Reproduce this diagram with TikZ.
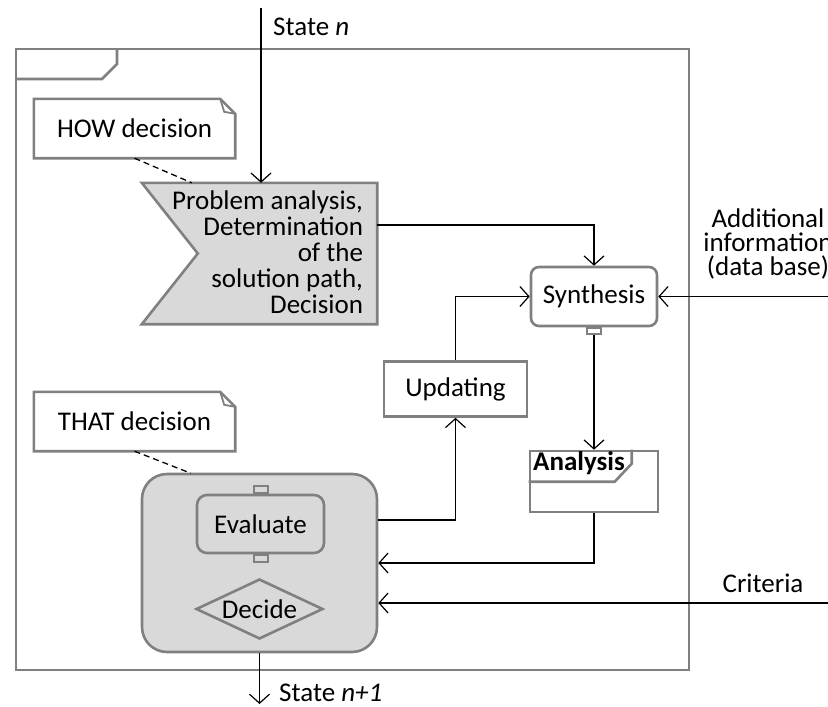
\documentclass[tikz,border=0pt]{standalone}
\usepackage{fontspec}
\setmainfont{Carlito}
\usetikzlibrary{arrows.meta,shapes.geometric,calc}
\definecolor{bgray}{RGB}{128,128,128}
\definecolor{gfill}{RGB}{217,217,217}
\begin{document}
\begin{tikzpicture}[x=1pt,y=-1pt,
  every node/.style={font=\fontsize{27}{26}\selectfont, inner sep=0pt},
  gline/.style={draw=bgray,line width=2.6pt},
  conn/.style={line width=1.2pt,-{Straight Barb[length=9pt,width=20pt]}},
  dashline/.style={line width=1.3pt,dash pattern=on 6pt off 4pt},
  portbox/.style={draw=bgray,line width=2pt,minimum width=14pt,minimum height=7pt},
  note/.style={minimum width=201pt,minimum height=59pt},
]
\useasboundingbox (0,0) rectangle (828,707);

% outer frame
\draw[gline] (16,49) rectangle (689,670);
\draw[gline] (16,79) -- (102,79) -- (117,64) -- (117,49);

% HOW note
\node[note] (how) at (134.5,128.5) {HOW decision};
\draw[gline] (how.north west) -- ([xshift=-15pt]how.north east) -- ([yshift=-15pt]how.north east) -- (how.south east) -- (how.south west) -- cycle;
\draw[draw=bgray,line width=1.8pt] ([xshift=-15pt]how.north east) -- ([xshift=-11pt,yshift=-13pt]how.north east) -- ([yshift=-15pt]how.north east);

% THAT note
\node[note] (that) at (134.5,421.5) {THAT decision};
\draw[gline] (that.north west) -- ([xshift=-15pt]that.north east) -- ([yshift=-15pt]that.north east) -- (that.south east) -- (that.south west) -- cycle;
\draw[draw=bgray,line width=1.8pt] ([xshift=-15pt]that.north east) -- ([xshift=-11pt,yshift=-13pt]that.north east) -- ([yshift=-15pt]that.north east);

% Problem analysis shape
\node[minimum width=235pt,minimum height=141pt] (pa) at (259.5,253.5) {};
\draw[gline,fill=gfill] (pa.north west) -- (pa.north east) -- (pa.south east) -- (pa.south west) -- ([xshift=56pt]pa.west) -- cycle;
\node[anchor=east,align=right] (pat) at ([xshift=-14pt,yshift=1pt]pa.east) {Problem analysis,\\Determination\\of the\\solution path,\\Decision};

% Synthesis
\node[gline,rounded corners=8pt,minimum width=126pt,minimum height=59pt] (syn) at (594,296.5) {Synthesis};
\node[portbox,fill=white,anchor=north,minimum height=6pt] (sp) at (syn.south) {};

% Updating
\node[gline,minimum width=143pt,minimum height=55pt] (upd) at (455.5,389) {Updating};

% Analysis frame
\node[gline,minimum width=128pt,minimum height=61pt] (an) at (594,481.5) {};
\draw[gline] (an.north west) ++(0,32) -- ++(86,0) -- ++(17,-18) -- ++(0,-14);
\node[anchor=base west,font=\fontsize{27}{26}\selectfont\bfseries] (ant) at (533,470) {Analysis};

% Gray decision box
\node[gline,fill=gfill,rounded corners=25pt,minimum width=235pt,minimum height=178pt] (gb) at (259.5,563) {};
\node[gline,fill=gfill,rounded corners=10pt,minimum width=127pt,minimum height=58pt] (ev) at (260.5,524) {Evaluate};
\node[portbox,fill=gfill,anchor=south] (evt) at (ev.north) {};
\node[portbox,fill=gfill,anchor=north] (evb) at (ev.south) {};
\node[diamond,gline,aspect=2.12,minimum width=127pt,minimum height=60pt] (dec) at (259.5,609) {Decide};

% dashed note links
\draw[dashline] (how.south) -- ([xshift=50pt]pa.north west);
\draw[dashline] (that.south) -- ([xshift=50pt,yshift=-0.5pt]gb.north west);

% external coordinates and labels
\coordinate (sn) at (261,8);
\coordinate (ai) at (828,296.5);
\coordinate (cr) at (828,603);
\coordinate (sn1) at (259.5,704);
\node[anchor=west] (lsn) at (273,27) {State \textit{n}};
\node[anchor=west] (lsn1) at (279,693) {State \textit{n+1}};
\node[align=center,font=\fontsize{27}{24}\selectfont] (lai) at (768,244) {Additional\\information\\(data base)};
\node (lcr) at (763,583) {Criteria};

% connectors
\draw[conn] (sn) -- (sn |- pa.north);
\draw[conn] ([yshift=28.5pt]pa.east) -| (syn.north);
\draw[conn] (ai) -- (syn.east);
\draw[conn] (upd.north) |- (syn.west);
\draw[conn] (sp.south) -- (sp.south |- an.north);
\draw[conn] (an.south) |- (gb.east);
\draw[conn] ([yshift=43pt]gb.east) -| (upd.south);
\draw[conn] (cr) -- (cr -| gb.east);
\draw[conn] (gb.south) -- (sn1);
\end{tikzpicture}
\end{document}
